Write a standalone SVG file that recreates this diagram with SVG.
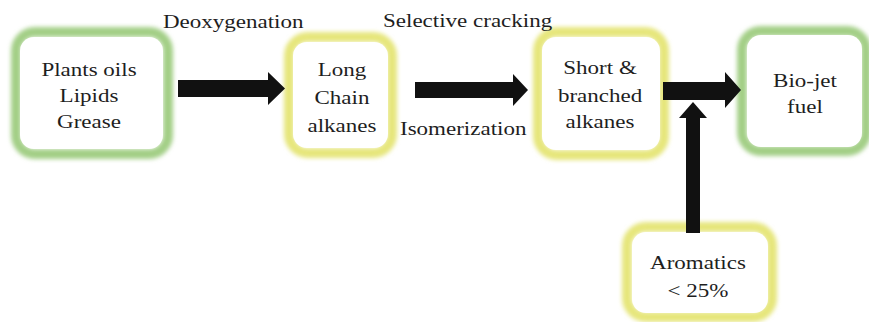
<svg xmlns="http://www.w3.org/2000/svg" width="869" height="322" viewBox="0 0 869 322">
<defs>
<filter id="glow" x="-20%" y="-20%" width="140%" height="140%"><feGaussianBlur stdDeviation="2.2"/></filter>
<filter id="soft" x="-10%" y="-10%" width="120%" height="120%"><feGaussianBlur stdDeviation="0.7"/></filter>
</defs>
<style>
.g{fill:none;stroke:#a3cf86;stroke-width:10}
.y{fill:none;stroke:#e6e67c;stroke-width:10}
.w{fill:#ffffff}
text{font-family:"Liberation Serif","Times New Roman",serif;font-size:19.5px;fill:#1e1e1e}
.ar{fill:#111111}
</style>
<rect width="869" height="322" fill="#ffffff"/>
<g id="n1">
<rect class="g" x="16" y="32" width="152" height="122" rx="19" filter="url(#glow)"/>
<rect class="w" x="20" y="37" width="143" height="112" rx="14" filter="url(#soft)"/>
<text transform="translate(41.4,76) scale(1.18,1)">Plants oils</text>
<text transform="translate(59.6,102) scale(1.18,1)">Lipids</text>
<text transform="translate(57.1,128) scale(1.18,1)">Grease</text>
</g>
<g id="n2">
<rect class="y" x="289" y="37" width="103" height="116" rx="19" filter="url(#glow)"/>
<rect class="w" x="293" y="42" width="95" height="106" rx="14" filter="url(#soft)"/>
<text transform="translate(317.7,76) scale(1.18,1)">Long</text>
<text transform="translate(314.5,104) scale(1.18,1)">Chain</text>
<text transform="translate(307.5,132) scale(1.18,1)">alkanes</text>
</g>
<g id="n3">
<rect class="y" x="538" y="32" width="126" height="123" rx="19" filter="url(#glow)"/>
<rect class="w" x="542" y="37" width="118" height="113" rx="14" filter="url(#soft)"/>
<text transform="translate(563.3,74) scale(1.18,1)">Short &amp;</text>
<text transform="translate(557.9,102) scale(1.18,1)">branched</text>
<text transform="translate(565.5,128) scale(1.18,1)">alkanes</text>
</g>
<g id="n4">
<rect class="g" x="742" y="31" width="124" height="120" rx="19" filter="url(#glow)"/>
<rect class="w" x="747" y="35" width="115" height="112" rx="14" filter="url(#soft)"/>
<text transform="translate(773.1,87) scale(1.18,1)">Bio-jet</text>
<text transform="translate(787.1,113) scale(1.18,1)">fuel</text>
</g>
<g id="n5">
<rect class="y" x="627" y="227" width="145" height="90" rx="19" filter="url(#glow)"/>
<rect class="w" x="632" y="232" width="136" height="81" rx="14" filter="url(#soft)"/>
<text transform="translate(650.1,269) scale(1.18,1)">Aromatics</text>
<text transform="translate(667.6,297) scale(1.18,1)">&lt; 25%</text>
</g>
<g id="labels">
<text transform="translate(163,28) scale(1.18,1)">Deoxygenation</text>
<text transform="translate(383,27) scale(1.18,1)">Selective cracking</text>
<text transform="translate(400,135) scale(1.18,1)">Isomerization</text>
</g>
<g id="connectors">
<polygon class="ar" points="178,80 268,80 268,72 285,88.5 268,105 268,97 178,97"/>
<polygon class="ar" points="415,82 513,82 513,74 528,90 513,106 513,98 415,98"/>
<polygon class="ar" points="663,82 725,82 725,72 741,90 725,108 725,100 663,100"/>
<polygon class="ar" points="686,233 686,118 679,118 693,102 707,118 700,118 700,233"/>
</g>
</svg>
